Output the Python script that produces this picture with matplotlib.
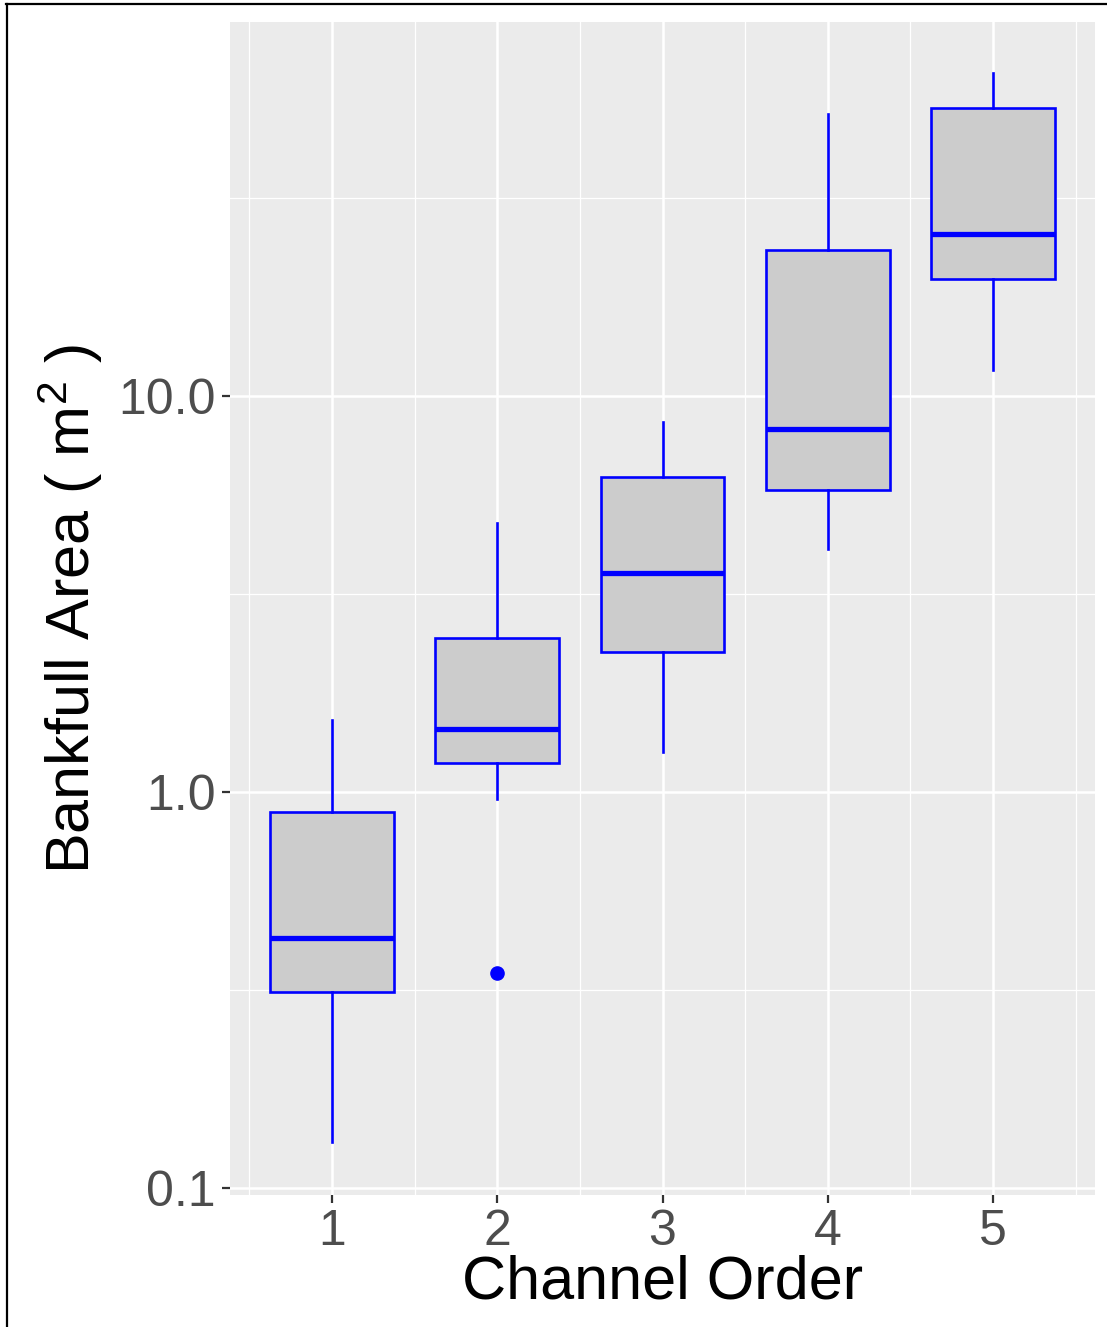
import numpy as np
import matplotlib
matplotlib.use("Agg")
import matplotlib.pyplot as plt
from matplotlib.lines import Line2D

# box summaries (log-scale y)
orders = [1, 2, 3, 4, 5]
whisk_lo = [0.131, 0.96, 1.26, 4.10, 11.6]
q1 = [0.313, 1.18, 2.26, 5.78, 19.7]
median = [0.427, 1.44, 3.58, 8.25, 25.7]
q3 = [0.889, 2.45, 6.24, 23.3, 53.3]
whisk_hi = [1.52, 4.77, 8.6, 51.4, 65.3]
outliers = [[], [0.348], [], [], []]

y_ticks = [0.1, 1.0, 10.0]
y_ticklabels = ["0.1", "1.0", "10.0"]

plt.rcParams["font.family"] = ["Liberation Sans", "DejaVu Sans"]
plt.rcParams["mathtext.default"] = "regular"

W, H = 1107, 1327
fig = plt.figure(figsize=(W / 100, H / 100), dpi=100)
ax = fig.add_axes([230 / W, 1 - 1195 / H, 865 / W, 1173 / H])
ax.set_facecolor("#EBEBEB")
for s in ax.spines.values():
    s.set_visible(False)

stats = []
for i in range(len(orders)):
    stats.append({"whislo": whisk_lo[i], "q1": q1[i], "med": median[i],
                  "q3": q3[i], "whishi": whisk_hi[i], "fliers": outliers[i]})

ax.bxp(stats, positions=orders, widths=0.75, patch_artist=True, showcaps=False,
       boxprops=dict(facecolor="#CCCCCC", edgecolor="#0000FF", linewidth=1.9),
       whiskerprops=dict(color="#0000FF", linewidth=1.9),
       medianprops=dict(color="#0000FF", linewidth=3.8, solid_capstyle="butt"),
       flierprops=dict(marker="o", markerfacecolor="#0000FF", markeredgecolor="#0000FF",
                       markersize=9.5, linestyle="none"),
       zorder=3)

ax.set_yscale("log")
ax.set_ylim(0.0960, 87.9)
ax.set_xlim(0.383, 5.617)

# ggplot-style grid
ax.set_yticks(y_ticks)
ax.set_yticklabels(y_ticklabels)
ax.set_yticks([10 ** -0.5, 10 ** 0.5, 10 ** 1.5], minor=True)
ax.set_xticks(orders)
ax.set_xticklabels([str(o) for o in orders])
ax.set_xticks(np.arange(0.5, 6.0, 1.0), minor=True)
ax.grid(which="major", color="white", linewidth=1.8, zorder=0)
ax.grid(which="minor", color="white", linewidth=0.9, zorder=0)
ax.set_axisbelow(True)
ax.yaxis.set_minor_formatter(matplotlib.ticker.NullFormatter())
ax.tick_params(which="minor", length=0)
ax.tick_params(which="major", length=6, width=1.6, color="#333333",
               labelsize=36, labelcolor="#4D4D4D", pad=4)

ax.set_xlabel("Channel Order", fontsize=44, color="black", labelpad=0)
ax.set_ylabel("Bankfull Area ( m$^{2}$ )", fontsize=44, color="black", labelpad=10)

# black frame on the left and top of the image
fig.add_artist(Line2D([7, 7], [0, H - 4], transform=None, color="black", linewidth=1.6))
fig.add_artist(Line2D([6, W], [H - 4, H - 4], transform=None, color="black", linewidth=1.6))

fig.savefig("out.png", dpi=100)
